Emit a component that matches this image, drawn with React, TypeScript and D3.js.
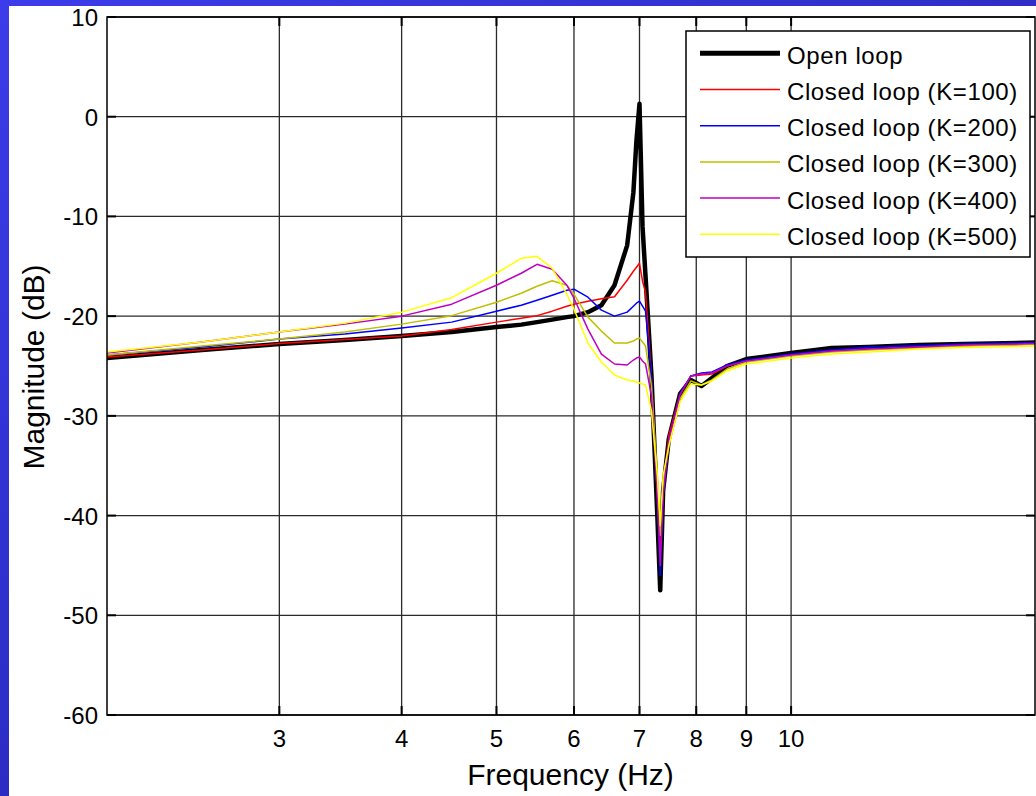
import React from "react";
import * as d3 from "d3";

// frequency points (Hz) shared by every trace
const freqHz = [
  2.0, 2.5, 3.0, 3.5, 4.0, 4.5, 5.0, 5.3, 5.5, 5.7, 5.9, 6.0, 6.2, 6.4, 6.6, 6.8, 6.9, 6.95, 7.0,
  7.05, 7.1, 7.2, 7.3, 7.35, 7.4, 7.5, 7.7, 7.9, 8.1, 8.3, 8.6, 9.0, 10, 11, 12, 13.5, 15, 17.75,
];

// magnitudes in dB
const openLoop = [
  -24.2, -23.4, -22.8, -22.4, -22.0, -21.6, -21.1, -20.85, -20.6, -20.35, -20.1, -20.0, -19.6, -18.9,
  -16.9, -12.9, -7.6, -2.4, 1.3, -11.0, -16.0, -26.0, -40.0, -47.5, -37.5, -32.3, -27.8, -26.4, -27.0,
  -26.2, -25.0, -24.3, -23.7, -23.2, -23.1, -22.9, -22.8, -22.65,
];
const closedK100 = [
  -24.1, -23.4, -22.75, -22.35, -22.0, -21.35, -20.6, -20.2, -19.95, -19.5, -19.0, -18.8, -18.5, -18.25,
  -18.05, -16.4, -15.5, -15.1, -14.7, -16.5, -17.6, -26.0, -38.0, -44.0, -37.0, -32.0, -27.8, -26.0,
  -25.9, -25.8, -25.0, -24.5, -23.9, -23.5, -23.3, -23.1, -22.95, -22.8,
];
const closedK200 = [
  -23.9, -23.1, -22.3, -21.8, -21.2, -20.6, -19.5, -18.9, -18.4, -17.9, -17.4, -17.3, -18.1, -19.4,
  -20.0, -19.6, -19.0, -18.7, -18.5, -19.0, -19.5, -26.0, -38.0, -46.0, -38.0, -32.5, -27.8, -26.0,
  -25.7, -25.6, -24.9, -24.4, -23.8, -23.4, -23.1, -22.95, -22.8, -22.65,
];
const closedK300 = [
  -23.9, -23.0, -22.3, -21.6, -20.8, -19.95, -18.6, -17.7, -17.0, -16.45, -16.9, -17.8, -20.1, -21.5,
  -22.7, -22.7, -22.5, -22.3, -22.2, -22.6, -23.0, -27.0, -36.0, -42.0, -37.0, -33.0, -28.3, -26.5,
  -26.9, -26.4, -25.3, -24.6, -24.0, -23.6, -23.4, -23.2, -23.0, -22.85,
];
const closedK400 = [
  -23.7, -22.6, -21.6, -20.8, -20.0, -18.8, -16.9, -15.7, -14.8, -15.3, -16.9, -18.2, -21.3, -23.8,
  -24.8, -24.9, -24.4, -24.2, -24.1, -24.5, -24.8, -28.0, -38.0, -45.0, -38.0, -32.5, -27.9, -26.0,
  -25.8, -25.7, -25.0, -24.5, -23.9, -23.5, -23.3, -23.1, -22.9, -22.75,
];
const closedK500 = [
  -23.6, -22.6, -21.6, -20.7, -19.6, -18.15, -15.7, -14.2, -14.0, -15.2, -17.8, -19.3, -22.7, -24.6,
  -25.9, -26.4, -26.5, -26.6, -26.7, -26.8, -26.9, -29.5, -36.0, -41.0, -36.0, -33.0, -28.6, -26.8,
  -26.9, -26.5, -25.5, -24.8, -24.2, -23.8, -23.6, -23.3, -23.15, -23.0,
];

const seriesNames = [
  "Open loop",
  "Closed loop (K=100)",
  "Closed loop (K=200)",
  "Closed loop (K=300)",
  "Closed loop (K=400)",
  "Closed loop (K=500)",
];
const seriesValues = [openLoop, closedK100, closedK200, closedK300, closedK400, closedK500];
const seriesColors = ["#000000", "#ff0000", "#0000ff", "#bfbf00", "#bf00bf", "#ffff00"];

const yTicks = [10, 0, -10, -20, -30, -40, -50, -60];
const xTicks = [3, 4, 5, 6, 7, 8, 9, 10];

const FONT = "'Liberation Sans', Arial, Helvetica, sans-serif";

export default function App() {
  const width = 1036;
  const height = 796;
  const margin = { left: 107, right: 1035, top: 17, bottom: 715 };

  const x = d3.scaleLog().domain([2, 17.75]).range([margin.left, margin.right]);
  const y = d3.scaleLinear().domain([-60, 10]).range([margin.bottom, margin.top]);

  const line = d3
    .line<number>()
    .x((_, i) => x(freqHz[i]))
    .y((d) => y(d));

  const legendX = 686;
  const legendY = 31;
  const rowStep = 36.2;

  return (
    <svg
      width={width}
      height={height}
      style={{ position: "absolute", left: 0, top: 0, display: "block" }}
      fontFamily={FONT}
    >
      <defs>
        <linearGradient id="topBar" x1="0" y1="0" x2="1" y2="0">
          <stop offset="0" stopColor="#3c3cea" />
          <stop offset="1" stopColor="#2e2ec6" />
        </linearGradient>
        <linearGradient id="leftBar" x1="0" y1="0" x2="0" y2="1">
          <stop offset="0" stopColor="#3c3cea" />
          <stop offset="1" stopColor="#2c2cc4" />
        </linearGradient>
        <clipPath id="plotClip">
          <rect x={margin.left} y={margin.top} width={margin.right - margin.left} height={margin.bottom - margin.top} />
        </clipPath>
      </defs>

      <rect x={0} y={0} width={width} height={height} fill="#ffffff" />
      <rect x={0} y={0} width={width} height={6} fill="url(#topBar)" />
      <rect x={0} y={0} width={9} height={height} fill="url(#leftBar)" />

      {/* grid */}
      <g stroke="#2a2a2a" strokeWidth={1.3}>
        {yTicks.map((t) => (
          <line key={"gy" + t} x1={margin.left} x2={margin.right} y1={y(t)} y2={y(t)} />
        ))}
        {xTicks.map((t) => (
          <line key={"gx" + t} x1={x(t)} x2={x(t)} y1={margin.top} y2={margin.bottom} />
        ))}
      </g>

      {/* inward ticks */}
      <g stroke="#000" strokeWidth={2}>
        {yTicks.map((t) => (
          <React.Fragment key={"ty" + t}>
            <line x1={margin.left} x2={margin.left + 9} y1={y(t)} y2={y(t)} />
            <line x1={margin.right - 9} x2={margin.right} y1={y(t)} y2={y(t)} />
          </React.Fragment>
        ))}
        {xTicks.map((t) => (
          <React.Fragment key={"tx" + t}>
            <line x1={x(t)} x2={x(t)} y1={margin.top} y2={margin.top + 9} />
            <line x1={x(t)} x2={x(t)} y1={margin.bottom - 9} y2={margin.bottom} />
          </React.Fragment>
        ))}
      </g>

      {/* traces */}
      <g clipPath="url(#plotClip)" fill="none" strokeLinejoin="round" strokeLinecap="round">
        {seriesValues.map((vals, i) => (
          <path
            key={seriesNames[i]}
            d={line(vals) || ""}
            stroke={seriesColors[i]}
            strokeWidth={i === 0 ? 4.5 : 1.5}
          />
        ))}
      </g>

      {/* axes box */}
      <rect
        x={margin.left}
        y={margin.top}
        width={margin.right - margin.left}
        height={margin.bottom - margin.top}
        fill="none"
        stroke="#000"
        strokeWidth={1.5}
      />

      {/* tick labels */}
      <g fontSize={24} fill="#000">
        {yTicks.map((t) => (
          <text key={"ly" + t} x={98} y={y(t) + 9} textAnchor="end">
            {t}
          </text>
        ))}
        {xTicks.map((t) => (
          <text key={"lx" + t} x={x(t)} y={747} textAnchor="middle">
            {t}
          </text>
        ))}
      </g>

      {/* axis titles */}
      <text x={570.5} y={785} textAnchor="middle" fontSize={30} fill="#000">
        Frequency (Hz)
      </text>
      <text transform="translate(44,367) rotate(-90)" textAnchor="middle" fontSize={30} fill="#000">
        Magnitude (dB)
      </text>

      {/* legend */}
      <g>
        <rect x={legendX} y={legendY} width={1030 - legendX} height={257 - legendY} fill="#fff" stroke="#000" strokeWidth={1.5} />
        {seriesNames.map((name, i) => {
          const ly = 53.3 + i * rowStep;
          return (
            <g key={"lg" + name}>
              <line x1={700} x2={780} y1={ly} y2={ly} stroke={seriesColors[i]} strokeWidth={i === 0 ? 5 : 1.5} />
              <text x={787} y={ly + 10.5} fontSize={24} letterSpacing={0.6} fill="#000">
                {name}
              </text>
            </g>
          );
        })}
      </g>
    </svg>
  );
}
